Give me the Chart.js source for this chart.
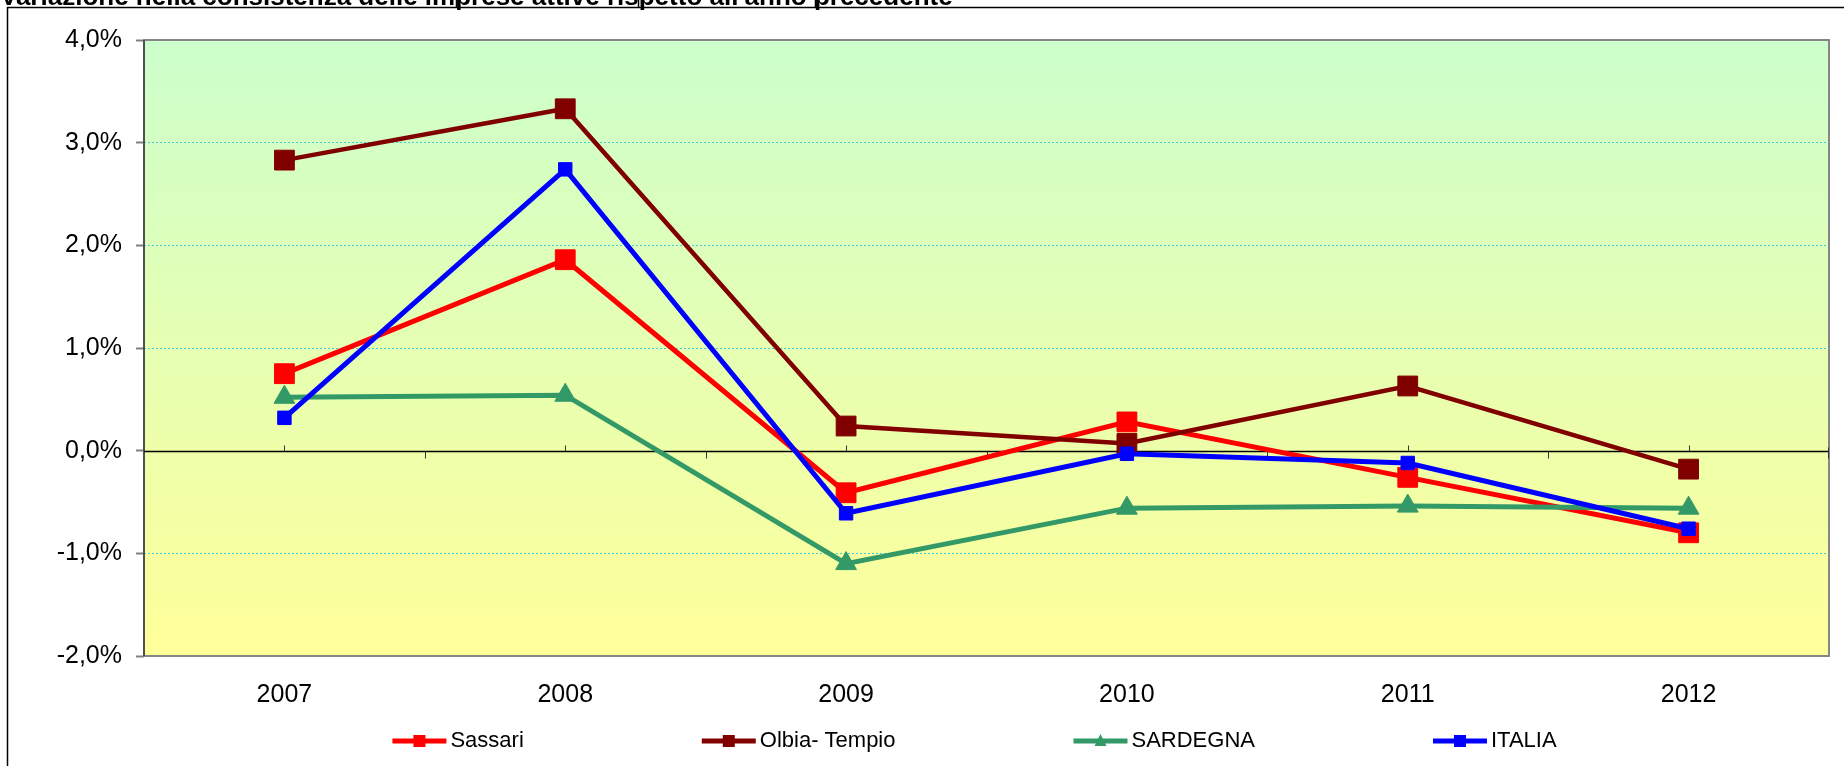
<!DOCTYPE html>
<html>
<head>
<meta charset="utf-8">
<script src="https://cdn.jsdelivr.net/npm/chart.js@4/dist/chart.umd.min.js"></script>
<style>
    html, body { margin: 0; padding: 0; background: #ffffff; }
    #wrap { width: 1844px; height: 766px; }
</style>
</head>
<body>
<div id="wrap"><canvas id="chart" width="1844" height="766"></canvas></div>
<script>
// dati: variazione % delle imprese attive rispetto all'anno precedente
const chartTitle = "Variazione nella consistenza delle imprese attive rispetto all'anno precedente";
const years = ["2007", "2008", "2009", "2010", "2011", "2012"];
const seriesNames = ["Sassari", "Olbia- Tempio", "SARDEGNA", "ITALIA"];
const sassari = [0.75, 1.86, -0.41, 0.28, -0.26, -0.80];
const olbiaTempio = [2.83, 3.33, 0.24, 0.07, 0.63, -0.18];
const sardegna = [0.52, 0.54, -1.10, -0.56, -0.54, -0.56];
const italia = [0.32, 2.74, -0.61, -0.03, -0.12, -0.76];
const yMin = -2;
const yMax = 4;

const FONT = "'Liberation Sans', Arial, sans-serif";

function formatPct(v) {
    return v.toFixed(1).replace(".", ",") + "%";
}

// sfondo sfumato dell'area del grafico
const plotBackground = {
    id: "plotBackground",
    beforeDraw(chart) {
        const { ctx, chartArea: a } = chart;
        const g = ctx.createLinearGradient(0, a.top, 0, a.bottom);
        g.addColorStop(0, "#ccffcc");
        g.addColorStop(1, "#ffff99");
        ctx.save();
        ctx.fillStyle = g;
        ctx.fillRect(a.left, a.top, a.right - a.left, a.bottom - a.top);
        ctx.restore();
    },
    beforeDatasetsDraw(chart) {
        const { ctx, chartArea: a, scales } = chart;
        const x = scales.x;
        const y0 = Math.round(scales.y.getPixelForValue(0)) + 0.5;
        ctx.save();
        // bordo dell'area del grafico
        ctx.strokeStyle = "#868686";
        ctx.lineWidth = 2;
        ctx.strokeRect(a.left, a.top, a.right - a.left, a.bottom - a.top);
        ctx.strokeStyle = "#505050";
        ctx.beginPath();
        ctx.moveTo(a.left, a.top);
        ctx.lineTo(a.left, a.bottom);
        ctx.stroke();
        // asse a quota zero
        ctx.strokeStyle = "#000000";
        ctx.lineWidth = 1.5;
        ctx.beginPath();
        ctx.moveTo(a.left, y0);
        ctx.lineTo(a.right, y0);
        ctx.stroke();
        ctx.lineWidth = 1;
        ctx.strokeStyle = "#333333";
        const centers = years.map((_, i) => x.getPixelForValue(i));
        ctx.beginPath();
        centers.forEach((cx) => {
            ctx.moveTo(Math.round(cx) + 0.5, y0 - 6);
            ctx.lineTo(Math.round(cx) + 0.5, y0);
        });
        for (let i = 1; i < centers.length; i++) {
            const bx = Math.round((centers[i - 1] + centers[i]) / 2) + 0.5;
            ctx.moveTo(bx, y0);
            ctx.lineTo(bx, y0 + 7);
        }
        ctx.moveTo(a.right - 0.5, y0 - 4);
        ctx.lineTo(a.right - 0.5, y0 + 7);
        ctx.stroke();
        ctx.restore();
    },
    afterDraw(chart) {
        const { ctx, chartArea: a, width, height } = chart;
        ctx.save();
        // cornice e titolo tagliato in alto
        ctx.strokeStyle = "#000000";
        ctx.lineWidth = 1.5;
        ctx.beginPath();
        ctx.moveTo(7, 7.5);
        ctx.lineTo(width, 7.5);
        ctx.moveTo(7.5, 7);
        ctx.lineTo(7.5, height);
        [456, 638, 815].forEach((lx) => {
            ctx.moveTo(lx + 0.5, 0);
            ctx.lineTo(lx + 0.5, 7);
        });
        ctx.stroke();
        ctx.fillStyle = "#000000";
        ctx.font = "bold 26px " + FONT;
        ctx.textBaseline = "alphabetic";
        ctx.fillText(chartTitle, 0, 5);

        // legenda con linea e marcatore
        ctx.font = "22px " + FONT;
        const lineLen = 54;
        const textGap = 4;
        const itemGap = 178;
        const items = chart.data.datasets.map((ds) => ({
            ds,
            w: lineLen + textGap + ctx.measureText(ds.label).width,
        }));
        const total = items.reduce((s, it) => s + it.w, 0) + itemGap * (items.length - 1);
        let lx = (a.left + a.right) / 2 - 12 - total / 2;
        const ly = 741;
        items.forEach((it) => {
            const ds = it.ds;
            ctx.strokeStyle = ds.borderColor;
            ctx.lineWidth = 5;
            ctx.beginPath();
            ctx.moveTo(lx, ly);
            ctx.lineTo(lx + lineLen, ly);
            ctx.stroke();
            ctx.fillStyle = ds.borderColor;
            const mx = lx + lineLen / 2;
            if (ds.pointStyle === "triangle") {
                ctx.beginPath();
                ctx.moveTo(mx, ly - 7);
                ctx.lineTo(mx + 6, ly + 5);
                ctx.lineTo(mx - 6, ly + 5);
                ctx.closePath();
                ctx.fill();
            } else {
                ctx.fillRect(mx - 6, ly - 6, 12, 12);
            }
            ctx.fillStyle = "#000000";
            ctx.textBaseline = "middle";
            ctx.fillText(ds.label, lx + lineLen + textGap, ly);
            lx += it.w + itemGap;
        });
        ctx.restore();
    },
};

function makeDataset(label, data, color, style, radius, width, order) {
    return {
        label,
        data,
        borderColor: color,
        backgroundColor: color,
        pointBackgroundColor: color,
        pointBorderColor: color,
        pointBorderWidth: 1,
        pointStyle: style,
        pointRadius: radius,
        pointHoverRadius: radius,
        borderWidth: width,
        tension: 0,
        fill: false,
        order,
    };
}

const ctx = document.getElementById("chart").getContext("2d");

new Chart(ctx, {
    type: "line",
    data: {
        labels: years,
        datasets: [
            makeDataset(seriesNames[0], sassari, "#ff0000", "rect", 14, 5, 3),
            makeDataset(seriesNames[1], olbiaTempio, "#800000", "rect", 14, 4.5, 2),
            makeDataset(seriesNames[2], sardegna, "#339966", "triangle", 12, 5, 1),
            makeDataset(seriesNames[3], italia, "#0000ff", "rect", 9.5, 5, 0),
        ],
    },
    options: {
        responsive: false,
        animation: false,
        devicePixelRatio: 1,
        layout: {
            padding: { top: 40, right: 10, left: 0, bottom: 0 },
        },
        plugins: {
            legend: { display: false },
            title: { display: false },
            tooltip: { enabled: false },
        },
        scales: {
            x: {
                type: "category",
                offset: true,
                grid: { display: false },
                border: { display: false },
                ticks: {
                    color: "#000000",
                    padding: 16,
                    maxRotation: 0,
                    font: { family: FONT, size: 25 },
                },
                afterFit(scale) {
                    scale.height = 110;
                },
            },
            y: {
                min: yMin,
                max: yMax,
                border: { display: false, dash: [2, 2] },
                grid: {
                    lineWidth: 1,
                    color: (c) => {
                        const v = c.tick ? c.tick.value : null;
                        if (v === 0 || v === yMin || v === yMax) return "rgba(0,0,0,0)";
                        return "#3fcfd8";
                    },
                    drawTicks: true,
                    tickLength: 8,
                    tickColor: "#808080",
                    tickWidth: 2,
                },
                ticks: {
                    stepSize: 1,
                    padding: 14,
                    color: "#000000",
                    font: { family: FONT, size: 25 },
                    callback: (v) => formatPct(v),
                },
                afterFit(scale) {
                    scale.width = 144;
                },
            },
        },
    },
    plugins: [plotBackground],
});
</script>
</body>
</html>
